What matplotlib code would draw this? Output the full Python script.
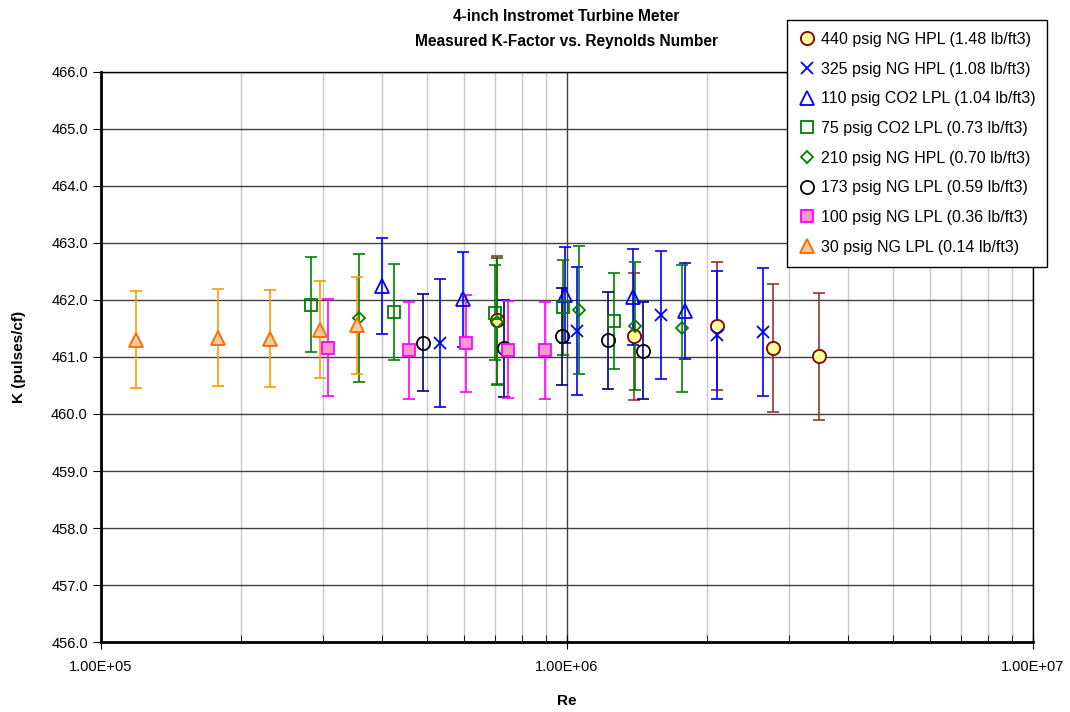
import matplotlib
matplotlib.use("Agg")
import matplotlib.pyplot as plt
from matplotlib.lines import Line2D
from matplotlib.ticker import FuncFormatter, LogLocator, MultipleLocator

plt.rcParams['font.family'] = ['Liberation Sans', 'DejaVu Sans']

# Data
re_440 = [7.06e5, 1.392e6, 2.10e6, 2.77e6, 3.47e6]
k_440 = [461.65, 461.36, 461.54, 461.16, 461.01]

re_325 = [5.33e5, 1.052e6, 1.589e6, 2.095e6, 2.63e6]
k_325 = [461.25, 461.46, 461.74, 461.39, 461.44]

re_110 = [4.01e5, 5.98e5, 9.92e5, 1.385e6, 1.792e6]
k_110 = [462.24, 462.01, 462.09, 462.05, 461.81]

re_75 = [2.82e5, 4.26e5, 7.01e5, 9.82e5, 1.262e6]
k_75 = [461.92, 461.79, 461.78, 461.87, 461.63]

re_210 = [3.57e5, 7.06e5, 1.063e6, 1.399e6, 1.763e6]
k_210 = [461.68, 461.62, 461.83, 461.54, 461.50]

re_173 = [4.92e5, 7.32e5, 9.77e5, 1.223e6, 1.458e6]
k_173 = [461.25, 461.15, 461.36, 461.29, 461.11]

re_100 = [3.07e5, 4.59e5, 6.07e5, 7.46e5, 8.97e5]
k_100 = [461.16, 461.12, 461.24, 461.13, 461.12]

re_30 = [1.187e5, 1.78e5, 2.305e5, 2.95e5, 3.54e5]
k_30 = [461.30, 461.34, 461.32, 461.48, 461.56]

labels = ['440 psig NG HPL (1.48 lb/ft3)', '325 psig NG HPL (1.08 lb/ft3)',
          '110 psig CO2 LPL (1.04 lb/ft3)', '75 psig CO2 LPL (0.73 lb/ft3)',
          '210 psig NG HPL (0.70 lb/ft3)', '173 psig NG LPL (0.59 lb/ft3)',
          '100 psig NG LPL (0.36 lb/ft3)', '30 psig NG LPL (0.14 lb/ft3)']
errors = [1.12, 1.12, 0.84, 0.84, 1.12, 0.85, 0.85, 0.85]

series = [(re_440, k_440), (re_325, k_325), (re_110, k_110), (re_75, k_75),
          (re_210, k_210), (re_173, k_173), (re_100, k_100), (re_30, k_30)]

# marker, size, face, edge, bar colour
styles = [('o', 9.5, '#FFFF99', '#800000', '#993333'),
          ('x', 9, 'blue', 'blue', 'blue'),
          ('^', 9.5, 'none', 'blue', 'blue'),
          ('s', 8.5, 'none', 'green', 'green'),
          ('D', 6.5, 'none', 'green', 'green'),
          ('o', 9.5, 'none', 'black', '#000080'),
          ('s', 9, '#FF99CC', '#FF00FF', '#FF00FF'),
          ('^', 10, '#FFCC99', '#FF6600', '#FF9900')]

fig = plt.figure(figsize=(10.7, 7.12), dpi=100)
ax = fig.add_axes([0.0944, 0.0983, 0.8710, 0.8006])

handles = []
for (x, y), err, (m, ms, fc, ec, bc), lab in zip(series, errors, styles, labels):
    ax.errorbar(x, y, yerr=err, fmt='none', ecolor=bc, elinewidth=1.2,
                capsize=4, capthick=1.2, zorder=3)
    ax.plot(x, y, linestyle='none', marker=m, markersize=ms,
            markerfacecolor=fc, markeredgecolor=ec, markeredgewidth=1.3,
            zorder=4)
    handles.append(Line2D([], [], linestyle='none', marker=m, markersize=ms,
                          markerfacecolor=fc, markeredgecolor=ec,
                          markeredgewidth=1.3, label=lab))

ax.set_xscale('log')
ax.set_xlim(1e5, 1e7)
ax.set_ylim(456, 466)
ax.yaxis.set_major_locator(MultipleLocator(1))
ax.xaxis.set_major_locator(LogLocator(base=10))
ax.xaxis.set_minor_locator(LogLocator(base=10, subs=range(2, 10)))
ax.xaxis.set_minor_formatter(FuncFormatter(lambda v, p: ''))
ax.yaxis.set_major_formatter(FuncFormatter(lambda v, p: f'{v:.1f}'))
ax.xaxis.set_major_formatter(FuncFormatter(lambda v, p: f'{v:.2E}'))

ax.grid(True, which='major', axis='y', color='#404040', linewidth=1)
ax.grid(True, which='major', axis='x', color='#404040', linewidth=1)
ax.grid(True, which='minor', axis='x', color='#C8C8C8', linewidth=1)
ax.set_axisbelow(True)

for s in ['top', 'right']:
    ax.spines[s].set_linewidth(1)
for s in ['left', 'bottom']:
    ax.spines[s].set_linewidth(2)

ax.tick_params(axis='y', which='major', direction='out', length=6, labelsize=10.5)
ax.tick_params(axis='x', which='major', direction='inout', length=10,
               labelsize=10.5, pad=8)
ax.tick_params(axis='x', which='minor', direction='in', length=5)

ax.set_xlabel('Re', fontsize=11, fontweight='bold', labelpad=14)
ax.set_ylabel('K (pulses/cf)', fontsize=11, fontweight='bold', labelpad=18)
fig.text(0.529, 0.9775, '4-inch Instromet Turbine Meter',
         ha='center', va='center', fontsize=11.2, fontweight='bold')
fig.text(0.529, 0.9424, 'Measured K-Factor vs. Reynolds Number',
         ha='center', va='center', fontsize=11.2, fontweight='bold')

leg = fig.legend(handles=handles, loc='upper left',
                 bbox_to_anchor=(0.7355, 0.972), borderaxespad=0,
                 frameon=True, fancybox=False,
                 fontsize=11.5, handlelength=1.0, handletextpad=0.35,
                 labelspacing=0.92, borderpad=0.75, framealpha=1,
                 edgecolor='black')
leg.get_frame().set_linewidth(1)

plt.savefig('out.png', dpi=100)
